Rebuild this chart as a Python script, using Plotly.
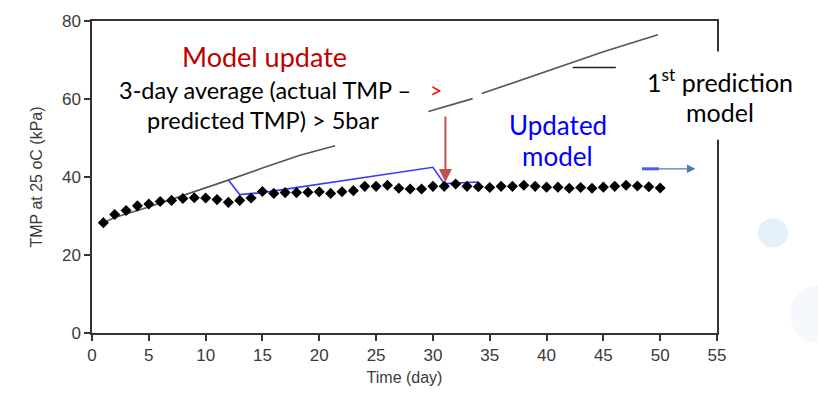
import plotly.graph_objects as go

# Measured TMP (black diamonds)
days = list(range(1, 51))
tmp_actual = [28.3, 30.4, 31.4, 32.6, 33.1, 33.7, 34.0, 34.5, 34.7, 34.6,
              34.2, 33.5, 34.0, 34.6, 36.3, 35.8, 36.0, 36.0, 36.1, 36.2,
              35.8, 36.2, 36.5, 37.6, 37.6, 37.9, 37.1, 36.9, 36.9, 37.6,
              37.6, 38.2, 37.6, 37.5, 37.3, 37.6, 37.6, 37.9, 37.6, 37.4,
              37.4, 37.1, 37.3, 37.1, 37.4, 37.6, 37.9, 37.7, 37.5, 37.2]

# 1st prediction model (gray line, with gaps where text boxes hide it)
model1_days = [1, 2, 5, 8, 12, 15, 18.3, 21.4, None, 29.6, 33.5, None, 34.3, 40, 45, 49.8]
model1_tmp = [28.3, 29.6, 32.3, 35.2, 39.2, 42.3, 45.6, 48.0, None, 56.8, 60.1, None, 61.4, 67.1, 72.1, 76.5]

# Updated model (blue line)
model2_days = [12, 13, 15, 20, 25, 30, 31, 34]
model2_tmp = [39.2, 35.5, 36.0, 38.2, 40.3, 42.5, 38.3, 38.7]

# leader line to "1st prediction model" label
leader_days = [42.3, 46.1]
leader_tmp = [68.1, 68.1]

# short blue bar at start of right arrow
bluebar_days = [48.4, 49.9]
bluebar_tmp = [42.1, 42.1]

x_ticks = [0, 5, 10, 15, 20, 25, 30, 35, 40, 45, 50, 55]
y_ticks = [0, 20, 40, 60, 80]


def px_x(p):
    return (p - 92) / 625


def px_y(p):
    return (334 - p) / 318


fig = go.Figure()

fig.add_trace(go.Scatter(x=model1_days, y=model1_tmp, mode="lines",
                         line=dict(color="#555555", width=1.6), connectgaps=False,
                         showlegend=False, hoverinfo="skip"))
fig.add_trace(go.Scatter(x=model2_days, y=model2_tmp, mode="lines",
                         line=dict(color="#3a3aff", width=1.6),
                         showlegend=False, hoverinfo="skip"))
fig.add_trace(go.Scatter(x=days, y=tmp_actual, mode="markers",
                         marker=dict(symbol="diamond", size=8.5, color="black"),
                         showlegend=False))
fig.add_trace(go.Scatter(x=leader_days, y=leader_tmp, mode="lines",
                         line=dict(color="#222222", width=1.5),
                         showlegend=False, hoverinfo="skip"))
fig.add_trace(go.Scatter(x=bluebar_days, y=bluebar_tmp, mode="lines",
                         line=dict(color="#4b5cff", width=3),
                         showlegend=False, hoverinfo="skip"))

shapes = [
    # faint slide decorations
    dict(type="circle", xref="paper", yref="paper",
         x0=px_x(758), x1=px_x(788), y0=px_y(247), y1=px_y(217),
         fillcolor="#e4f0fa", line=dict(width=0), layer="below"),
    dict(type="circle", xref="paper", yref="paper",
         x0=px_x(790), x1=px_x(850), y0=px_y(345), y1=px_y(285),
         fillcolor="#f5f9fd", line=dict(width=0), layer="below"),
    # white box behind "1st prediction model"
    dict(type="rect", xref="paper", yref="paper",
         x0=px_x(618), x1=px_x(818), y0=px_y(137), y1=px_y(47),
         fillcolor="white", line=dict(width=0), layer="above"),
]

txtfont = "Lato, 'Open Sans', sans-serif"


def label(x, y, text, size, color, ref="x"):
    d = dict(x=x, y=y, text=text, showarrow=False, xanchor="center", yanchor="middle",
             font=dict(family=txtfont, size=size, color=color))
    if ref == "paper":
        d.update(xref="paper", yref="paper")
    return d


annotations = [
    label(15.15, 71.0, "Model update", 27, "#c00000"),
    label(15.2, 62.4, "3-day average (actual TMP –", 23.5, "black"),
    label(15.06, 54.7, "predicted TMP) > 5bar", 23.5, "black"),
    label(30.3, 62.4, ">", 21, "#ff0000"),
    label(40.97, 53.4, "Updated", 26, "#0000ff"),
    label(40.97, 45.5, "model", 26, "#0000ff"),
    label(px_x(720), px_y(77), "1<sup>st</sup> prediction", 25, "black", ref="paper"),
    label(px_x(719.5), px_y(108.5), "model", 25, "black", ref="paper"),
    # red arrow
    dict(x=31.1, y=38.7, ax=31.1, ay=55.9, xref="x", yref="y", axref="x", ayref="y",
         text="", showarrow=True, arrowhead=2, arrowsize=1.3, arrowwidth=2,
         arrowcolor="#c0504d"),
    # blue arrow to the right
    dict(x=53.1, y=42.1, ax=49.6, ay=42.1, xref="x", yref="y", axref="x", ayref="y",
         text="", showarrow=True, arrowhead=2, arrowsize=1.3, arrowwidth=1.3,
         arrowcolor="#4a7ebb"),
]

axis_font = dict(family="'Liberation Sans', Arial, sans-serif", size=17, color="#3a3a3a")
title_font = dict(family="'Liberation Sans', Arial, sans-serif", size=16, color="#3a3a3a")

fig.update_layout(
    width=818, height=396,
    margin=dict(l=92, r=101, t=16, b=62),
    paper_bgcolor="white", plot_bgcolor="white",
    shapes=shapes, annotations=annotations,
    xaxis=dict(range=[0, 55], tickvals=x_ticks, ticks="outside", ticklen=6,
               tickwidth=1.5, tickcolor="#333333",
               showline=True, linecolor="#333333", linewidth=1.5, mirror=True,
               showgrid=False, zeroline=False, tickfont=axis_font,
               title=dict(text="Time (day)", font=title_font, standoff=8)),
    yaxis=dict(range=[0, 80], tickvals=y_ticks, ticks="outside", ticklen=6,
               tickwidth=1.5, tickcolor="#333333",
               showline=True, linecolor="#333333", linewidth=1.5, mirror=True,
               showgrid=False, zeroline=False, tickfont=axis_font,
               title=dict(text="TMP at 25 oC (kPa)", font=title_font, standoff=15)),
)

fig.write_html("out.html")
